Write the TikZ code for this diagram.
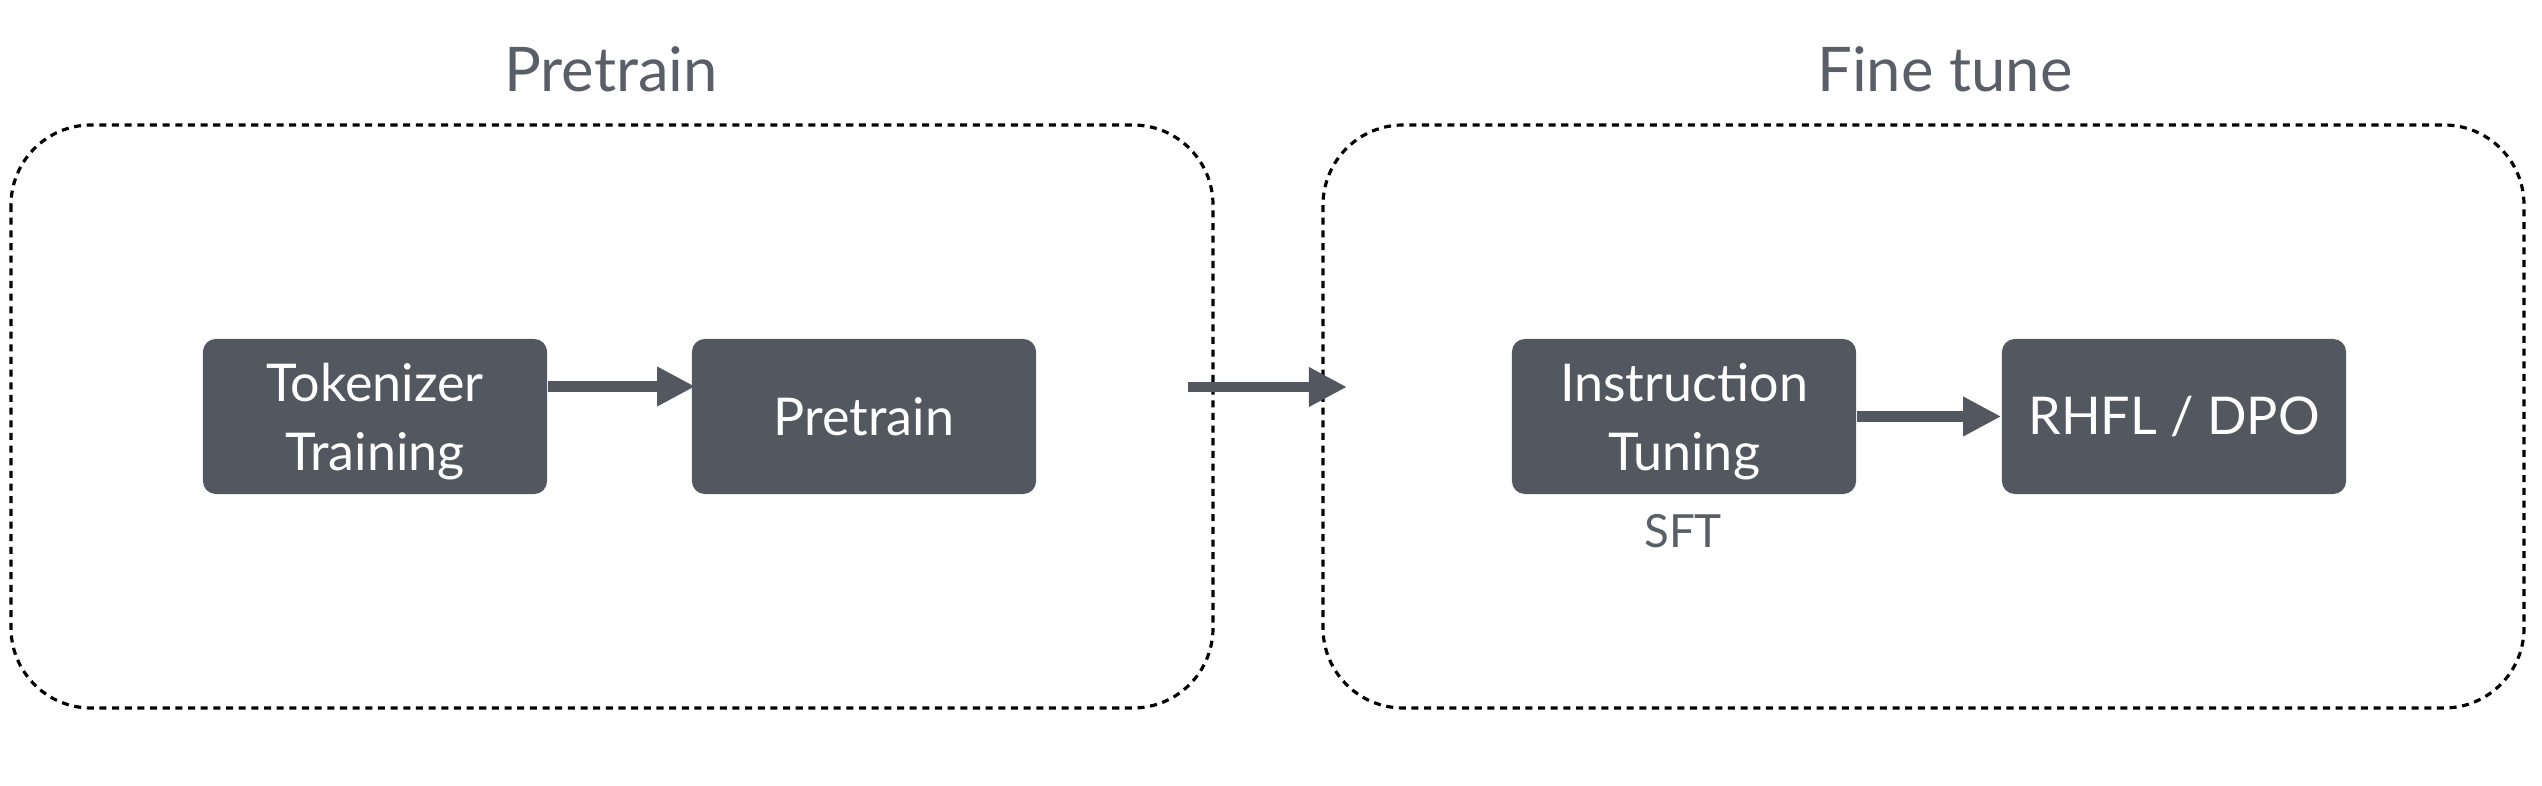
\documentclass[tikz,border=0pt]{standalone}
\usepackage{fontspec}
\setmainfont{Lato}
\usetikzlibrary{arrows.meta}
\definecolor{boxgray}{HTML}{53575F}
\definecolor{txtgray}{HTML}{5A5E66}
\newcommand\mytopstrut{\rule{0pt}{14pt}}
\tikzset{
  stagebox/.style={fill=boxgray, text=white, rounded corners=0.13cm, minimum width=3.44cm, minimum height=1.55cm, align=center, inner sep=0pt, font=\fontsize{14.8}{19.6}\selectfont},
  group/.style={draw=black, line width=0.9pt, dash pattern=on 2pt off 1.6pt, rounded corners=0.8cm},
  titlelbl/.style={text=txtgray, font=\fontsize{17.5}{20}\selectfont, anchor=base, inner sep=0pt},
  note/.style={text=txtgray, font=\fontsize{13}{16}\selectfont, anchor=base, inner sep=0pt},
  flow/.style={draw=boxgray, line width=3pt, -{Triangle[length=0.38cm, width=0.37cm]}, shorten >=0pt}
}
\begin{document}
\begin{tikzpicture}[x=0.01cm, y=-0.01cm]
\useasboundingbox (0,0) rectangle (2542,786);
% group frames
\draw[group] (11,125) rectangle (1213,708);
\draw[group] (1323,125) rectangle (2524,708);
% titles
\node[titlelbl] (t1) at (611,92) {Pretrain};
\node[titlelbl] (t2) at (1945,92) {Fine tune};
% stage boxes
\node[stagebox] (tok) at (375,416.5) {\mytopstrut Tokenizer\\Training};
\node[stagebox] (pre) at (864,416.5) {Pretrain};
\node[stagebox] (ins) at (1684,416.5) {\mytopstrut Instruction\\Tuning};
\node[stagebox] (rl)  at (2174,416.5) {RHFL / DPO};
\node[note] (sft) at (1683,548) {SFT};
% connectors
\draw[flow] ([yshift=0.3cm]tok.east) -- ([yshift=0.3cm,xshift=0.04cm]pre.west);
\coordinate (m1) at (1188,387);
\coordinate (m2) at (1347,387);
\draw[flow] (m1) -- (m2);
\draw[flow] (ins.east) -- (rl.west);
\end{tikzpicture}
\end{document}
